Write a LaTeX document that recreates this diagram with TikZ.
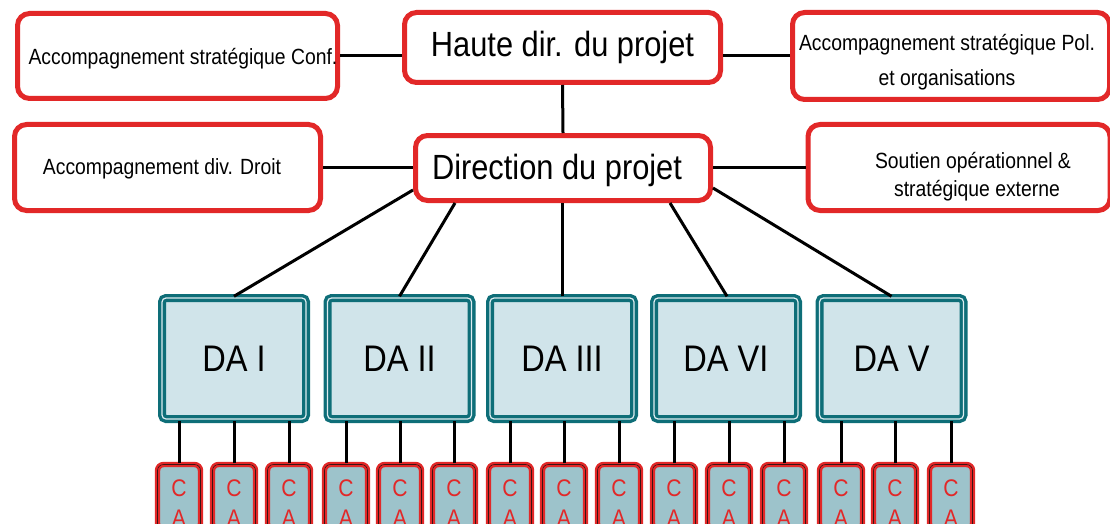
\documentclass[tikz,border=0pt]{standalone}
\usepackage{fontspec}
\setmainfont[FakeStretch=0.88]{Liberation Sans}
\definecolor{bred}{RGB}{226,40,40}
\definecolor{teal1}{RGB}{14,110,120}
\definecolor{dafill}{RGB}{208,228,234}
\definecolor{cafill}{RGB}{157,195,203}
\definecolor{cadark}{RGB}{60,20,20}
\tikzset{
  topbox/.style={draw=bred, line width=5pt, fill=white, rounded corners=12pt, inner sep=0pt},
  bigtxt/.style={font=\fontsize{35}{40}\selectfont},
  smalltxt/.style={font=\fontsize{22}{35}\selectfont, align=center},
  dabox/.style={draw=teal1, line width=3.4pt, double=dafill!70!white, double distance=1.2pt, fill=dafill,
     rounded corners=4pt, minimum width=144pt, minimum height=121pt, inner sep=0pt,
     font=\fontsize{37}{40}\selectfont},
  cabox/.style={draw=bred, line width=2.4pt, double=cadark, double distance=0.6pt, fill=cafill,
     rounded corners=6pt, minimum width=43pt, minimum height=65pt, inner sep=0pt},
  catxt/.style={text=bred, font=\fontsize{24}{30}\selectfont, align=center},
  link/.style={draw=black, line width=3pt}
}
\begin{document}
\begin{tikzpicture}[x=1pt,y=-1pt]
\useasboundingbox (0,0) rectangle (1110,524);
\clip (0,0) rectangle (1110,524);
% top row
\node[topbox, minimum width=320pt, minimum height=85pt] (conf) at (177.5,56) {};
\node[smalltxt] (conft) at (183,59) {Accompagnement stratégique Conf.};
\node[topbox, minimum width=316pt, minimum height=70pt, bigtxt] (haute) at (562.5,47.5) {Haute dir. du projet};
\node[topbox, minimum width=317pt, minimum height=87pt] (pol) at (951,56) {};
\node[smalltxt] (polt) at (947,62) {Accompagnement stratégique Pol.\\et organisations};
% second row
\node[topbox, minimum width=306pt, minimum height=86pt] (droit) at (167.5,167.5) {};
\node[smalltxt] (droitt) at (162,169) {Accompagnement div. Droit};
\node[topbox, minimum width=295pt, minimum height=65pt, bigtxt] (dir) at (563,168) {};
\node[bigtxt] (dirt) at (557,170) {Direction du projet};
\node[topbox, minimum width=302pt, minimum height=86pt] (sout) at (959,167.5) {};
\node[smalltxt, font=\fontsize{22}{28}\selectfont] (soutt) at (973,177) {Soutien opérationnel \&\\ \hspace*{8pt}stratégique externe};
% connectors top
\draw[link] (conf.east) -- (conf.east -| haute.west);
\draw[link] (pol.west) -- (pol.west -| haute.east);
\draw[link] (droit.east) -- (droit.east -| dir.west);
\draw[link] (sout.west) -- (sout.west -| dir.east);
\draw[link] (haute.south) -- (dir.north);
% DA boxes
\node[dabox] (da1) at (234,358.5) {DA I};
\node[dabox] (da2) at (399.5,358.5) {DA II};
\node[dabox] (da3) at (562,358.5) {DA III};
\node[dabox] (da4) at (726,358.5) {DA VI};
\node[dabox] (da5) at (891.5,358.5) {DA V};
% connectors to DA
\draw[link] (da1.north) -- ([yshift=-22pt]dir.west);
\draw[link] (da2.north) -- ([xshift=-108pt]dir.south);
\draw[link] (da3.north) -- (da3.north |- dir.south);
\draw[link] ([xshift=1pt]da4.north) -- ([xshift=107pt]dir.south);
\draw[link] (da5.north) -- ([yshift=-20pt]dir.east);
% CA boxes
\foreach \x/\d [count=\i] in {179/da1,234/da1,289/da1,346/da2,400/da2,454/da2,510/da3,564/da3,619/da3,674/da4,729/da4,784/da4,841/da5,895/da5,951/da5}{
  \node[cabox] (ca\i) at (\x,497) {};
  \node[catxt] (cat\i) at (\x,503) {C\\A};
  \draw[link] (ca\i.north) -- (ca\i.north |- \d.south);
}
\end{tikzpicture}
\end{document}
